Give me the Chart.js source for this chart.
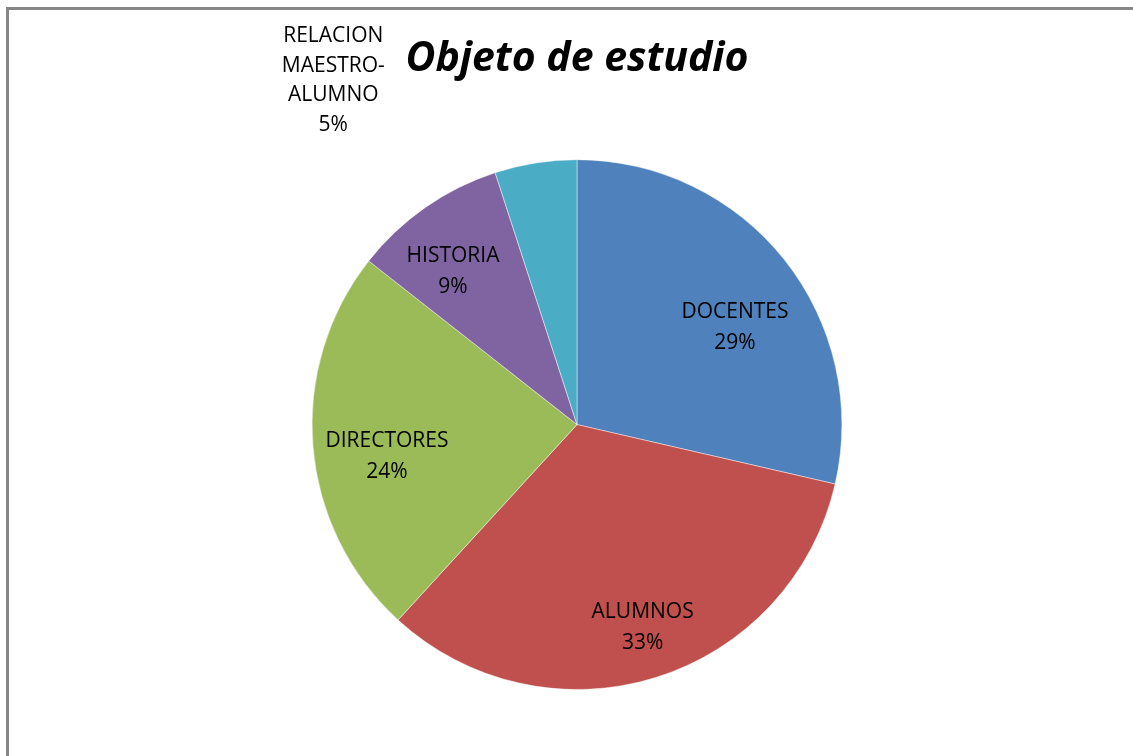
<!DOCTYPE html>
<html>
<head>
<meta charset="utf-8">
<script src="https://cdn.jsdelivr.net/npm/chart.js@4/dist/chart.umd.min.js"></script>
<style>
  body { margin: 0; background: #fff; overflow: hidden; }
  #frame { position: absolute; left: 6px; top: 7px; width: 1200px; height: 800px;
           border-left: 3px solid #878787; border-top: 3px solid #878787; }
  #myChart { position: absolute; left: 0; top: 0; }
</style>
</head>
<body>
<div id="frame"></div>
<canvas id="myChart" width="1133" height="756"></canvas>
<script>
// categorias (multi-line labels) and their share of the pie
let categorias = [
  ['DOCENTES'],
  ['ALUMNOS'],
  ['DIRECTORES'],
  ['HISTORIA'],
  ['RELACION', 'MAESTRO-', 'ALUMNO'],
];
let valores = [28.6, 33.2, 23.8, 9.4, 5.0];

let colores = ['#4F81BD', '#C0504D', '#9BBB59', '#8064A2', '#4BACC6'];

// where each label sits: fraction of radius + angle shift (degrees)
let labelRadial = [0.708, 0.79, 0.725, 0.755, 1.604];
let labelShift = [5.9, -1, -3.7, -3.4, -26];

const sliceLabels = {
  id: 'sliceLabels',
  afterDatasetsDraw(chart) {
    const ctx = chart.ctx;
    const meta = chart.getDatasetMeta(0);
    const total = valores.reduce((a, b) => a + b, 0);
    ctx.save();
    ctx.font = '21px "Open Sans"';
    ctx.fillStyle = '#000';
    ctx.textAlign = 'center';
    ctx.textBaseline = 'middle';
    meta.data.forEach((arc, i) => {
      const p = arc.getProps(['x', 'y', 'startAngle', 'endAngle', 'outerRadius'], true);
      const ang = (p.startAngle + p.endAngle) / 2 + labelShift[i] * Math.PI / 180;
      const r = p.outerRadius * labelRadial[i];
      const cx = p.x + Math.cos(ang) * r;
      const cy = p.y + Math.sin(ang) * r + 4;
      const lines = categorias[i].concat(Math.round(valores[i] / total * 100) + '%');
      const lh = lines.length > 2 ? 29.5 : 31;
      const y0 = cy - (lines.length - 1) * lh / 2;
      lines.forEach((t, k) => ctx.fillText(t, cx, y0 + k * lh));
    });
    ctx.restore();
  }
};

var chart = document.getElementById('myChart').getContext('2d');
var myChart = new Chart(chart, {
  type: 'pie',
  data: {
    labels: categorias,
    datasets: [
      {
        data: valores,
        backgroundColor: colores,
        borderColor: 'rgba(255, 255, 255, 0.45)',
        borderWidth: 1,
      },
    ],
  },
  options: {
    responsive: false,
    animation: false,
    layout: {
      padding: { left: 21, right: 0, top: 0, bottom: 66 },
    },
    plugins: {
      legend: { display: false },
      tooltip: { enabled: false },
      title: {
        display: true,
        text: 'Objeto de estudio',
        color: '#000',
        font: { family: '"Open Sans"', size: 41, style: 'italic', weight: 'bold', lineHeight: 1.2 },
        padding: { top: 35, bottom: 75 },
      },
    },
  },
  plugins: [sliceLabels],
});
</script>
</body>
</html>
